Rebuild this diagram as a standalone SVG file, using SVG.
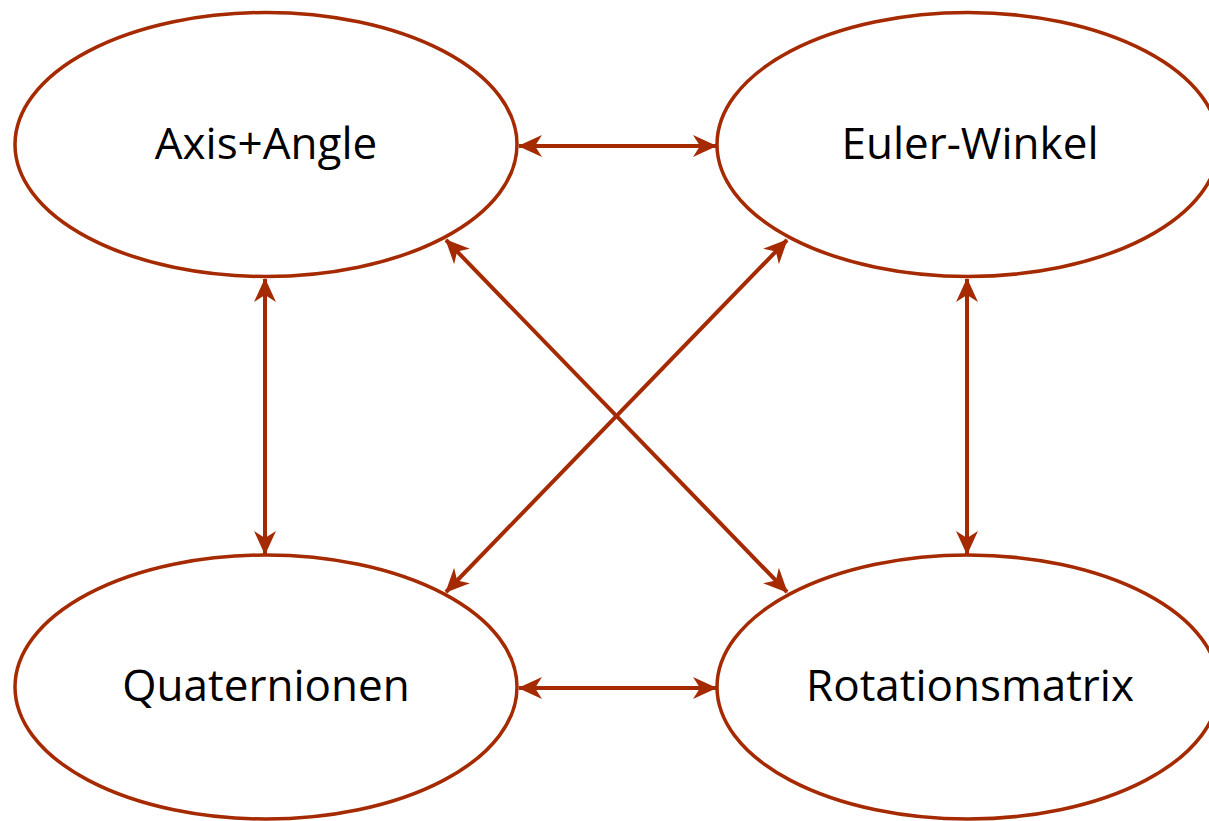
<svg xmlns="http://www.w3.org/2000/svg" width="1209" height="821" viewBox="0 0 1209 821">
  <style>
    .node ellipse { fill: #ffffff; stroke: #a52a00; stroke-width: 3.5; }
    .node text { font-family: "Open Sans", "Liberation Sans", sans-serif; font-size: 44px; fill: #000000; text-anchor: middle; }
    .edge { stroke: #a52a00; stroke-width: 4; fill: none; marker-start: url(#head); marker-end: url(#head); }
  </style>
  <defs>
    <marker id="head" viewBox="0 0 24 24" refX="23" refY="12" markerWidth="24" markerHeight="24" markerUnits="userSpaceOnUse" orient="auto-start-reverse">
      <path d="M0,1 L24,12 L0,23 L7,12 Z" fill="#a52a00"/>
    </marker>
  </defs>

  <g id="axis-angle" class="node">
    <ellipse cx="266" cy="144.5" rx="251" ry="132"/>
    <text x="266" y="159">Axis+Angle</text>
  </g>
  <g id="euler-winkel" class="node">
    <ellipse cx="968" cy="144.5" rx="251" ry="132"/>
    <text x="970" y="159">Euler-Winkel</text>
  </g>
  <g id="quaternionen" class="node">
    <ellipse cx="266" cy="687" rx="251" ry="132"/>
    <text x="266" y="701">Quaternionen</text>
  </g>
  <g id="rotationsmatrix" class="node">
    <ellipse cx="968" cy="687" rx="251" ry="132"/>
    <text x="970" y="701">Rotationsmatrix</text>
  </g>

  <g id="connectors">
    <line class="edge" x1="519" y1="146" x2="716" y2="146"/>
    <line class="edge" x1="519" y1="688" x2="716" y2="688"/>
    <line class="edge" x1="265" y1="279" x2="265" y2="554"/>
    <line class="edge" x1="967" y1="279" x2="967" y2="554"/>
    <line class="edge" x1="446" y1="240" x2="787" y2="592"/>
    <line class="edge" x1="787" y1="240" x2="446" y2="592"/>
  </g>
</svg>
